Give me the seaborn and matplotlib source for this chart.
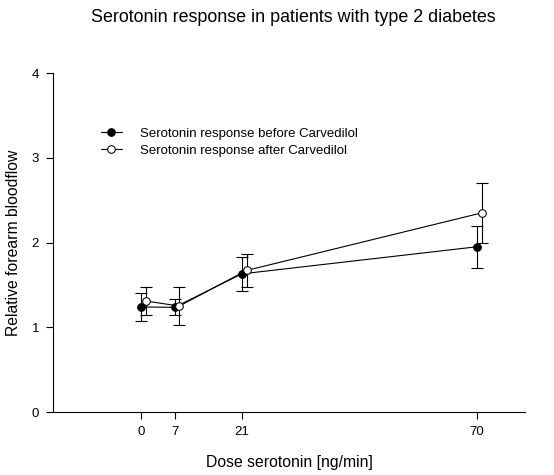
import pandas as pd
import matplotlib
matplotlib.use("Agg")
import matplotlib.pyplot as plt
import seaborn as sns

sns.set_style("ticks")
plt.rcParams["font.family"] = ["Liberation Sans", "DejaVu Sans"]
plt.rcParams["text.color"] = "black"
plt.rcParams["axes.labelcolor"] = "black"

# values
doses = [0, 7, 21, 70]
before_mean = [1.24, 1.235, 1.63, 1.95]
before_err = [0.17, 0.095, 0.20, 0.25]
after_mean = [1.31, 1.25, 1.67, 2.35]
after_err = [0.17, 0.22, 0.19, 0.35]
dodge = 1.0  # small horizontal shift of the "after" series

df_before = pd.DataFrame({"dose": doses, "flow": before_mean, "err": before_err})
df_after = pd.DataFrame({"dose": [d + dodge for d in doses], "flow": after_mean, "err": after_err})

fig = plt.figure(figsize=(5.54, 4.75), dpi=100)
ax = fig.add_axes([0.0957, 0.1326, 0.852, 0.7137])

for d in (df_before, df_after):
    ax.errorbar(d["dose"], d["flow"], yerr=d["err"], fmt="none",
                ecolor="black", elinewidth=0.8, capsize=4, capthick=0.8, zorder=2)

sns.lineplot(data=df_before, x="dose", y="flow", ax=ax, color="black", lw=0.8,
             marker="o", markersize=5.5, markerfacecolor="black", markeredgecolor="black",
             label="Serotonin response before Carvedilol", zorder=3)
sns.lineplot(data=df_after, x="dose", y="flow", ax=ax, color="black", lw=0.8,
             marker="o", markersize=5.5, markerfacecolor="white", markeredgecolor="black",
             label="Serotonin response after Carvedilol", zorder=3)

ax.set_xlim(-18.3, 80)
ax.set_ylim(0, 4)
ax.set_xticks(doses)
ax.set_yticks([0, 1, 2, 3, 4])
ax.tick_params(direction="out", length=5, width=0.8, labelsize=9.5, colors="black", pad=5)
for s in ("left", "bottom"):
    ax.spines[s].set_linewidth(0.8)
    ax.spines[s].set_color("black")
sns.despine(ax=ax)

ax.set_xlabel("Dose serotonin [ng/min]", fontsize=11.3, labelpad=12)
ax.set_ylabel("Relative forearm bloodflow", fontsize=11.3, labelpad=8)
fig.suptitle("Serotonin response in patients with type 2 diabetes", fontsize=12.9,
             x=0.529, y=0.98)

ax.legend(loc="upper left", bbox_to_anchor=(0.09, 0.855), frameon=False,
          fontsize=9.5, handlelength=1.6, handletextpad=1.4, labelspacing=0.38,
          borderaxespad=0)

fig.savefig("out.png", dpi=100)
